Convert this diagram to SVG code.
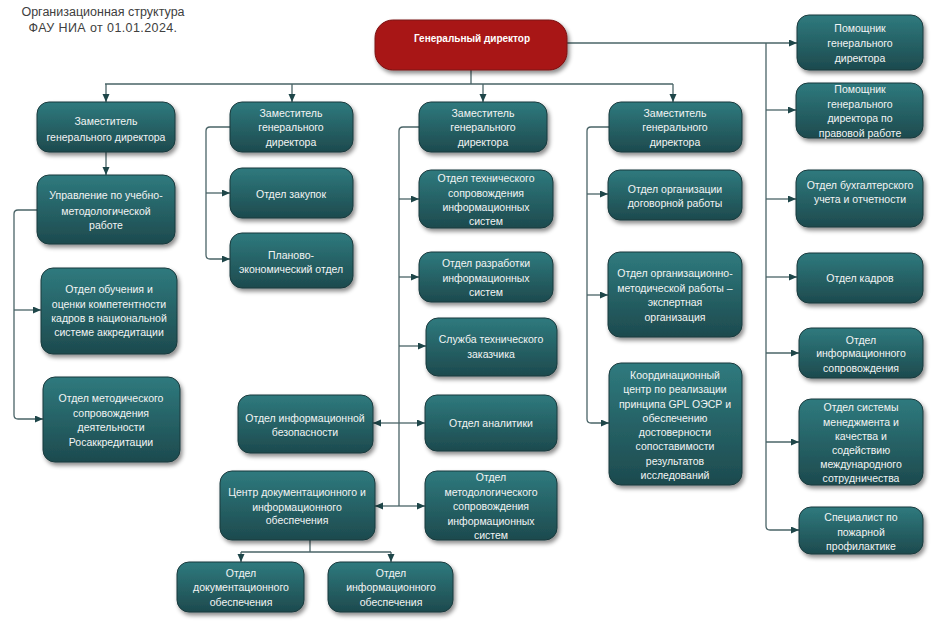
<svg xmlns="http://www.w3.org/2000/svg" width="932" height="624" viewBox="0 0 932 624">
<defs>
<linearGradient id="tg" x1="0" y1="0" x2="0" y2="1">
<stop offset="0" stop-color="#2f7a7e"/>
<stop offset="1" stop-color="#1d4a4e"/>
</linearGradient>
<filter id="sh" x="-20%" y="-20%" width="140%" height="150%">
<feDropShadow dx="2" dy="3" stdDeviation="2" flood-color="#000" flood-opacity="0.45"/>
</filter>
<marker id="ar" markerUnits="userSpaceOnUse" markerWidth="9" markerHeight="8" refX="8" refY="3.5" orient="auto">
<path d="M0,0 L8,3.5 L0,7 z" fill="#1e4649"/>
</marker>
</defs>
<style>
.b{fill:url(#tg);stroke:#1a3a3d;stroke-width:1;filter:url(#sh)}
.t{font-family:"Liberation Sans",Arial,sans-serif;font-size:10.5px;fill:#f2f4f4;text-anchor:middle}
.c{fill:none;stroke:#4a6467;stroke-width:1.3}
.a{marker-end:url(#ar)}
.title{font-family:"Liberation Sans",Arial,sans-serif;font-size:12.5px;fill:#404040;text-anchor:middle}
</style>
<rect width="932" height="624" fill="#ffffff"/>
<text class="title" x="103" y="16">Организационная структура</text>
<text class="title" x="103" y="32" letter-spacing="0.4">ФАУ НИА от 01.01.2024.</text>

<g id="connectors">
<path class="c" d="M471,70 V84 M105,84 H673"/>
<path class="c a" d="M106,84 V102"/>
<path class="c a" d="M292,84 V102"/>
<path class="c a" d="M483,84 V102"/>
<path class="c a" d="M673,84 V102"/>
<path class="c a" d="M567,43 H797"/>
<path class="c a" d="M766,43 V526 Q766,530 770,530 H799"/>
<path class="c a" d="M766,110 H796"/>
<path class="c a" d="M766,199 H796"/>
<path class="c a" d="M766,277 H797"/>
<path class="c a" d="M766,353 H799"/>
<path class="c a" d="M766,442 H799"/>
<path class="c a" d="M106,152 V175"/>
<path class="c a" d="M37,210 H18 Q14,210 14,214 V415 Q14,419 18,419 H43"/>
<path class="c a" d="M14,310 H41"/>
<path class="c a" d="M230,127 H210 Q206,127 206,131 V255 Q206,259 210,259 H230"/>
<path class="c a" d="M206,193 H230"/>
<path class="c" d="M419,127 H403 Q399,127 399,131 V506"/>
<path class="c a" d="M399,199 H419"/>
<path class="c a" d="M399,277 H419"/>
<path class="c a" d="M399,346 H426"/>
<path class="c a" d="M399,423 H425"/>
<path class="c a" d="M399,506 H425"/>
<path class="c a" d="M399,423 H373"/>
<path class="c a" d="M399,506 H375"/>
<path class="c a" d="M609,127 H591 Q587,127 587,131 V419 Q587,423 591,423 H609"/>
<path class="c a" d="M587,194 H608"/>
<path class="c a" d="M587,295 H608"/>
<path class="c" d="M310,540 V552 M241,552 H391"/>
<path class="c a" d="M241,552 V562"/>
<path class="c a" d="M391,552 V562"/>
</g>

<g id="gendir">
<rect x="375" y="20" width="192" height="50" rx="18" fill="#a81818" stroke="#7a1010" stroke-width="1" filter="url(#sh)"/>
<text x="472" y="42" font-family="Liberation Sans,Arial,sans-serif" font-size="10px" font-weight="bold" fill="#ffffff" text-anchor="middle">Генеральный директор</text>
</g>

<g id="r1"><rect class="b" x="797" y="15" width="126" height="55" rx="12"/>
<text class="t"><tspan x="860" y="32">Помощник</tspan><tspan x="860" y="47">генерального</tspan><tspan x="860" y="62">директора</tspan></text></g>
<g id="r2"><rect class="b" x="796" y="83" width="127" height="55" rx="12"/>
<text class="t"><tspan x="860" y="93">Помощник</tspan><tspan x="860" y="108">генерального</tspan><tspan x="860" y="122">директора по</tspan><tspan x="860" y="137">правовой работе</tspan></text></g>
<g id="r3"><rect class="b" x="796" y="170" width="127" height="57" rx="12"/>
<text class="t"><tspan x="860" y="189">Отдел бухгалтерского</tspan><tspan x="860" y="203">учета и отчетности</tspan></text></g>
<g id="r4"><rect class="b" x="797" y="253" width="126" height="50" rx="12"/>
<text class="t"><tspan x="860" y="282">Отдел кадров</tspan></text></g>
<g id="r5"><rect class="b" x="799" y="328" width="124" height="50" rx="12"/>
<text class="t"><tspan x="861" y="344">Отдел</tspan><tspan x="861" y="357">информационного</tspan><tspan x="861" y="372">сопровождения</tspan></text></g>
<g id="r6"><rect class="b" x="799" y="399" width="124" height="86" rx="12"/>
<text class="t"><tspan x="861" y="411">Отдел системы</tspan><tspan x="861" y="426">менеджмента и</tspan><tspan x="861" y="440">качества и</tspan><tspan x="861" y="454">содействию</tspan><tspan x="861" y="468">международного</tspan><tspan x="861" y="482">сотрудничества</tspan></text></g>
<g id="r7"><rect class="b" x="799" y="507" width="124" height="47" rx="12"/>
<text class="t"><tspan x="861" y="521">Специалист по</tspan><tspan x="861" y="536">пожарной</tspan><tspan x="861" y="550">профилактике</tspan></text></g>

<g id="l1"><rect class="b" x="37" y="102" width="138" height="50" rx="12"/>
<text class="t"><tspan x="106" y="125">Заместитель</tspan><tspan x="106" y="141">генерального директора</tspan></text></g>
<g id="l2"><rect class="b" x="37" y="175" width="138" height="69" rx="12"/>
<text class="t"><tspan x="106" y="199">Управление по учебно-</tspan><tspan x="106" y="215">методологической</tspan><tspan x="106" y="229">работе</tspan></text></g>
<g id="l3"><rect class="b" x="41" y="268" width="136" height="86" rx="12"/>
<text class="t"><tspan x="109" y="293">Отдел обучения и</tspan><tspan x="109" y="308">оценки компетентности</tspan><tspan x="109" y="322">кадров в национальной</tspan><tspan x="109" y="336">системе аккредитации</tspan></text></g>
<g id="l4"><rect class="b" x="43" y="377" width="137" height="85" rx="12"/>
<text class="t"><tspan x="111" y="402">Отдел методического</tspan><tspan x="111" y="417">сопровождения</tspan><tspan x="111" y="431">деятельности</tspan><tspan x="111" y="446">Росаккредитации</tspan></text></g>

<g id="c2a"><rect class="b" x="230" y="102" width="123" height="50" rx="12"/>
<text class="t"><tspan x="291" y="117">Заместитель</tspan><tspan x="291" y="131">генерального</tspan><tspan x="291" y="146">директора</tspan></text></g>
<g id="c2b"><rect class="b" x="230" y="168" width="123" height="50" rx="12"/>
<text class="t"><tspan x="291" y="198">Отдел закупок</tspan></text></g>
<g id="c2c"><rect class="b" x="230" y="233" width="123" height="55" rx="12"/>
<text class="t"><tspan x="291" y="259">Планово-</tspan><tspan x="291" y="273">экономический отдел</tspan></text></g>

<g id="c3a"><rect class="b" x="419" y="102" width="128" height="50" rx="12"/>
<text class="t"><tspan x="483" y="117">Заместитель</tspan><tspan x="483" y="131">генерального</tspan><tspan x="483" y="146">директора</tspan></text></g>
<g id="c3b"><rect class="b" x="419" y="170" width="134" height="58" rx="12"/>
<text class="t"><tspan x="486" y="182">Отдел технического</tspan><tspan x="486" y="197">сопровождения</tspan><tspan x="486" y="211">информационных</tspan><tspan x="486" y="225">систем</tspan></text></g>
<g id="c3c"><rect class="b" x="419" y="252" width="134" height="50" rx="12"/>
<text class="t"><tspan x="486" y="267">Отдел разработки</tspan><tspan x="486" y="282">информационных</tspan><tspan x="486" y="296">систем</tspan></text></g>
<g id="c3d"><rect class="b" x="426" y="318" width="131" height="58" rx="12"/>
<text class="t"><tspan x="491" y="343">Служба технического</tspan><tspan x="491" y="358">заказчика</tspan></text></g>
<g id="c3e"><rect class="b" x="425" y="395" width="132" height="56" rx="12"/>
<text class="t"><tspan x="491" y="427">Отдел аналитики</tspan></text></g>
<g id="c3f"><rect class="b" x="425" y="471" width="132" height="69" rx="12"/>
<text class="t"><tspan x="491" y="481">Отдел</tspan><tspan x="491" y="496">методологического</tspan><tspan x="491" y="510">сопровождения</tspan><tspan x="491" y="525">информационных</tspan><tspan x="491" y="539">систем</tspan></text></g>
<g id="c3g"><rect class="b" x="238" y="395" width="135" height="58" rx="12"/>
<text class="t"><tspan x="305" y="422">Отдел информационной</tspan><tspan x="305" y="436">безопасности</tspan></text></g>
<g id="c3h"><rect class="b" x="220" y="471" width="155" height="69" rx="12"/>
<text class="t"><tspan x="297" y="496">Центр документационного и</tspan><tspan x="297" y="511">информационного</tspan><tspan x="297" y="524">обеспечения</tspan></text></g>
<g id="c3i"><rect class="b" x="177" y="562" width="127" height="50" rx="12"/>
<text class="t"><tspan x="241" y="577">Отдел</tspan><tspan x="241" y="591">документационного</tspan><tspan x="241" y="606">обеспечения</tspan></text></g>
<g id="c3j"><rect class="b" x="328" y="562" width="125" height="50" rx="12"/>
<text class="t"><tspan x="391" y="577">Отдел</tspan><tspan x="391" y="591">информационного</tspan><tspan x="391" y="606">обеспечения</tspan></text></g>

<g id="c4a"><rect class="b" x="609" y="102" width="133" height="50" rx="12"/>
<text class="t"><tspan x="675" y="117">Заместитель</tspan><tspan x="675" y="131">генерального</tspan><tspan x="675" y="146">директора</tspan></text></g>
<g id="c4b"><rect class="b" x="608" y="170" width="134" height="50" rx="12"/>
<text class="t"><tspan x="675" y="193">Отдел организации</tspan><tspan x="675" y="207">договорной работы</tspan></text></g>
<g id="c4c"><rect class="b" x="608" y="252" width="134" height="85" rx="12"/>
<text class="t"><tspan x="675" y="277">Отдел организационно-</tspan><tspan x="675" y="292">методической работы –</tspan><tspan x="675" y="306">экспертная</tspan><tspan x="675" y="321">организация</tspan></text></g>
<g id="c4d"><rect class="b" x="609" y="363" width="133" height="122" rx="12"/>
<text class="t"><tspan x="675" y="379">Координационный</tspan><tspan x="675" y="393">центр по реализации</tspan><tspan x="675" y="408">принципа GPL ОЭСР и</tspan><tspan x="675" y="422">обеспечению</tspan><tspan x="675" y="436">достоверности</tspan><tspan x="675" y="450">сопоставимости</tspan><tspan x="675" y="465">результатов</tspan><tspan x="675" y="479">исследований</tspan></text></g>
</svg>
